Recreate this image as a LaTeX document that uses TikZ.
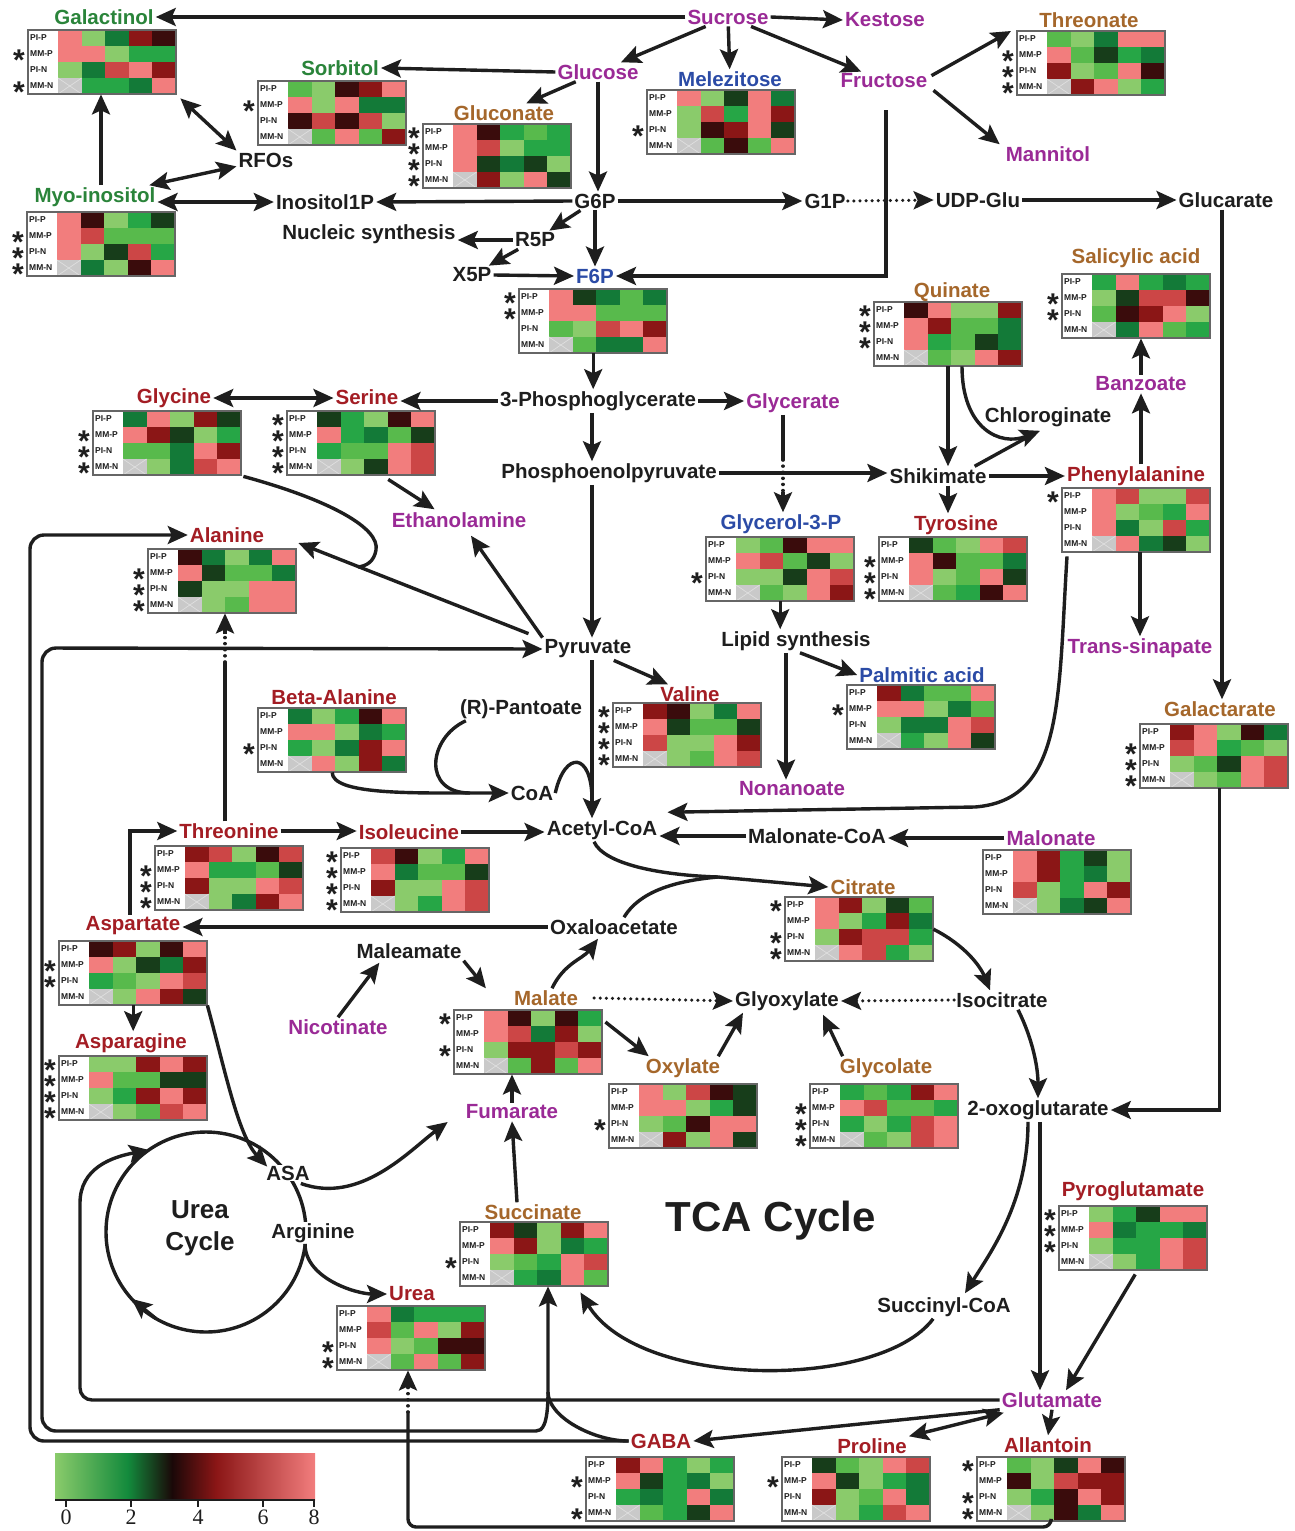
\documentclass[tikz,border=0pt]{standalone}
\usepackage{fontspec}
\setmainfont{Liberation Sans}
\newfontfamily\serifnum{Liberation Serif}
\usetikzlibrary{arrows.meta,calc}
\definecolor{ink}{HTML}{1E1E1E}
\definecolor{cpur}{HTML}{9A2A96}
\definecolor{cgrn}{HTML}{2A843A}
\definecolor{cbrn}{HTML}{A5672B}
\definecolor{cblu}{HTML}{2B4BA6}
\definecolor{cred}{HTML}{A31D24}
\definecolor{hm-p}{HTML}{F27D7D}
\definecolor{hm-r}{HTML}{CC4646}
\definecolor{hm-d}{HTML}{8B1616}
\definecolor{hm-k}{HTML}{3A0C0C}
\definecolor{hm-n}{HTML}{173D1A}
\definecolor{hm-g}{HTML}{137A38}
\definecolor{hm-m}{HTML}{26A646}
\definecolor{hm-s}{HTML}{58BA4C}
\definecolor{hm-l}{HTML}{8ACB6B}
\definecolor{hm-x}{HTML}{C9C9C9}
\definecolor{cbg}{HTML}{138A3C}
\definecolor{cbk}{HTML}{1A0808}
\pgfdeclarehorizontalshading{hmbar}{100bp}{color(0bp)=(hm-l); color(25bp)=(hm-l); color(39bp)=(cbg); color(47.5bp)=(cbk); color(56bp)=(hm-d); color(75bp)=(hm-p); color(100bp)=(hm-p)}
\tikzset{
 lab/.style={font=\fontsize{20.5}{22}\selectfont\bfseries, inner sep=2pt, text=ink},
 ln/.style={draw=ink, line width=3.4pt},
 arr/.style={ln, -{Stealth[length=20pt,width=18pt,inset=4pt]}},
 dblarr/.style={ln, {Stealth[length=20pt,width=18pt,inset=4pt]}-{Stealth[length=20pt,width=18pt,inset=4pt]}},
 dotln/.style={ln, line cap=round, dash pattern=on 0.1pt off 6pt},
 rowlab/.style={font=\fontsize{8.5}{9}\selectfont\bfseries, inner sep=0, anchor=west, text=ink},
 hstar/.style={font=\fontsize{30}{30}\selectfont\bfseries, inner sep=0, text=ink},
 hmborder/.style={draw=black!60, line width=1.1pt},
}
% #1 name, #2 x, #3 y, #4 20 colour codes, #5 stars
\newcommand\hmap[5]{%
 \begin{scope}[shift={(#2,#3)}]
  \foreach \c [count=\i from 0] in {#4}{%
   \pgfmathtruncatemacro\hr{\i/5}%
   \pgfmathtruncatemacro\hc{\i-5*\hr}%
   \fill[hm-\c] ({30+23.6*\hc},{16*\hr}) rectangle ++(23.9,16.3);
  }
  \draw[white!75!gray, line width=0.7pt] (30,48) -- (53.6,64) (30,64) -- (53.6,48);
  \foreach \t [count=\j from 0] in {PI-P,MM-P,PI-N,MM-N}{\node[rowlab] at (2,{16*\j+8}) {\t};}
  \foreach \s [count=\j from 0] in {#5}{\ifnum\s=1\relax \node[hstar] at (-9,{16*\j+14.4}) {*};\fi}
  \draw[hmborder] (0,0) rectangle (148,64);
  \node[inner sep=0, minimum width=148pt, minimum height=64pt, anchor=north west] (#1) at (0,0) {};
 \end{scope}}
\begin{document}
\begin{tikzpicture}[x=1pt,y=-1pt]
\useasboundingbox (0,0) rectangle (1294,1531);
\fill[white] (0,0) rectangle (1294,1531);

% ---------------- heat maps
\hmap{hmgalt}{28}{30}{p,l,g,d,k,p,p,l,m,m,l,g,r,p,d,x,m,m,g,p}{0,1,0,1}
\hmap{hmsor}{258}{81}{s,l,k,d,p,p,l,p,g,g,k,r,k,r,l,x,s,p,s,d}{0,1,0,0}
\hmap{hmglcn}{423}{124}{p,k,m,s,m,p,r,l,m,m,p,n,g,n,l,x,d,l,p,n}{1,1,1,1}
\hmap{hmmel}{647}{90}{p,l,n,p,g,l,r,m,p,d,l,k,d,p,n,x,s,k,s,p}{0,0,1,0}
\hmap{hmthr}{1017}{31}{s,l,g,p,p,p,s,n,m,g,d,l,s,p,k,x,d,p,l,m}{0,1,1,1}
\hmap{hmmyo}{27}{212}{p,k,l,m,n,p,r,s,s,s,p,l,n,r,m,x,g,l,k,p}{0,1,1,1}
\hmap{hmf6p}{519}{289}{p,n,g,s,g,p,p,s,s,s,s,l,r,p,d,x,s,g,g,p}{1,1,0,0}
\hmap{hmsal}{1062}{274}{m,p,m,g,m,l,n,r,r,k,s,k,d,p,l,x,g,p,s,m}{0,1,1,0}
\hmap{hmqui}{874}{302}{k,p,l,l,d,p,d,s,s,g,p,m,s,n,g,x,s,l,p,d}{1,1,1,0}
\hmap{hmgly}{93}{411}{g,p,l,d,n,p,d,n,l,m,s,s,g,p,d,x,l,g,r,p}{0,1,1,1}
\hmap{hmser}{287}{411}{n,m,l,k,p,p,m,g,s,n,m,s,s,p,r,x,l,n,p,r}{1,1,1,1}
\hmap{hmala}{148}{549}{k,g,l,g,p,p,n,s,s,g,n,l,l,p,p,x,l,s,p,p}{0,1,1,1}
\hmap{hmg3p}{706}{537}{l,s,k,p,p,p,r,s,n,l,l,l,n,p,r,x,s,l,p,d}{0,0,1,0}
\hmap{hmtyr}{879}{537}{n,s,l,p,r,p,k,s,s,g,p,l,s,p,n,x,s,m,k,p}{0,1,1,1}
\hmap{hmphe}{1062}{488}{p,r,l,l,r,p,l,s,m,p,p,g,l,r,m,x,p,g,n,l}{1,0,0,0}
\hmap{hmgalr}{1140}{724}{d,p,l,k,g,r,p,m,s,l,l,s,n,p,r,x,l,s,p,r}{0,1,1,1}
\hmap{hmbala}{258}{708}{g,l,m,k,p,p,p,l,g,m,m,l,g,d,p,x,p,l,d,g}{0,0,1,0}
\hmap{hmval}{613}{703}{d,k,l,g,p,p,n,s,s,n,r,l,l,p,d,x,l,s,p,r}{1,1,1,1}
\hmap{hmpal}{847}{685}{d,g,s,s,p,p,p,l,g,s,l,g,g,p,r,x,m,l,p,n}{0,1,0,0}
\hmap{hmthn}{155}{846}{d,r,l,k,r,p,m,m,s,n,d,l,l,p,r,x,l,g,d,p}{0,1,1,1}
\hmap{hmile}{341}{848}{r,k,l,m,p,p,g,s,s,n,d,l,l,p,r,x,l,m,p,r}{1,1,1,1}
\hmap{hmmal}{983}{850}{p,d,m,n,l,p,d,m,g,l,r,l,m,p,d,x,l,g,n,p}{0,0,0,0}
\hmap{hmcit}{785}{897}{p,d,l,n,s,p,l,m,d,g,l,d,r,r,m,x,p,r,m,l}{1,0,1,1}
\hmap{hmasp}{59}{941}{k,d,l,k,p,p,l,n,g,d,m,s,l,p,r,x,l,p,d,n}{0,1,1,0}
\hmap{hmasn}{59}{1056}{l,l,d,p,d,p,s,s,n,n,l,m,d,p,d,x,l,s,r,p}{1,1,1,1}
\hmap{hmmlt}{454}{1010}{p,k,l,k,m,p,r,g,d,l,l,d,d,r,d,x,s,d,s,p}{1,0,1,0}
\hmap{hmoxy}{609}{1084}{p,l,r,k,n,p,p,l,m,n,l,s,k,p,p,x,d,l,p,n}{0,0,1,0}
\hmap{hmglco}{810}{1084}{m,s,m,d,p,p,r,s,s,m,m,l,m,r,p,x,s,l,r,p}{0,1,1,1}
\hmap{hmsccn}{460}{1222}{d,n,l,d,p,p,d,l,g,m,l,s,m,p,r,x,m,g,p,s}{0,0,1,0}
\hmap{hmurea}{337}{1306}{p,g,m,m,m,r,s,p,l,d,p,l,s,k,k,x,s,p,s,d}{0,0,1,1}
\hmap{hmpyg}{1059}{1206}{l,m,n,p,p,p,g,m,m,g,l,m,m,p,r,x,l,m,p,r}{1,1,1,0}
\hmap{hmgaba}{586}{1457}{d,p,m,l,m,p,n,m,g,l,m,g,m,p,g,x,s,m,n,p}{0,1,0,1}
\hmap{hmpro}{782}{1457}{n,s,l,p,r,p,n,l,m,g,d,l,s,p,g,x,l,m,r,p}{0,1,0,0}
\hmap{hmall}{977}{1457}{s,l,n,p,k,k,l,r,d,d,l,m,k,p,d,x,l,k,g,p}{1,0,1,1}

% ---------------- urea cycle ring
\coordinate (uc) at (206,1232);
\draw[ln] (uc) circle[radius=100];

% ---------------- labels
\node[lab,text=cpur] (suc) at (728,17) {Sucrose};
\node[lab,text=cgrn] (galt) at (104,17) {Galactinol};
\node[lab,text=cpur] (kes) at (885,20) {Kestose};
\node[lab,text=cbrn] (thr) at (1089,20) {Threonate};
\node[lab,text=cpur] (glc) at (598,72) {Glucose};
\node[lab,text=cgrn] (sor) at (340,68) {Sorbitol};
\node[lab,text=cblu] (mel) at (730,79) {Melezitose};
\node[lab,text=cpur] (fru) at (884,81) {Fructose};
\node[lab,text=cbrn] (glcn) at (504,113) {Gluconate};
\node[lab,text=cpur] (man) at (1048,154) {Mannitol};
\node[lab] (rfo) at (266,160) {RFOs};
\node[lab,text=cgrn] (myo) at (95,197) {Myo-inositol};
\node[lab] (ino) at (325,202) {Inositol1P};
\node[lab] (g6p) at (595,201) {G6P};
\node[lab] (g1p) at (825,201) {G1P};
\node[lab] (udp) at (978,200) {UDP-Glu};
\node[lab] (gluc) at (1226,200) {Glucarate};
\node[lab] (nuc) at (369,234) {Nucleic synthesis};
\node[lab] (r5p) at (535,240) {R5P};
\node[lab] (x5p) at (472,275) {X5P};
\node[lab,text=cblu] (f6p) at (595,276) {F6P};
\node[lab,text=cbrn] (sal) at (1136,258) {Salicylic acid};
\node[lab,text=cbrn] (qui) at (952,292) {Quinate};
\node[lab,text=cred] (gly) at (174,398) {Glycine};
\node[lab,text=cred] (ser) at (367,397) {Serine};
\node[lab] (pga) at (598,401) {3-Phosphoglycerate};
\node[lab,text=cpur] (glyc) at (793,403) {Glycerate};
\node[lab,text=cpur] (ban) at (1141,384) {Banzoate};
\node[lab] (chl) at (1048,417) {Chloroginate};
\node[lab] (pep) at (609,473) {Phosphoenolpyruvate};
\node[lab] (shk) at (938,476) {Shikimate};
\node[lab,text=cred] (phe) at (1136,476) {Phenylalanine};
\node[lab,text=cpur] (eth) at (459,520) {Ethanolamine};
\node[lab,text=cred] (ala) at (227,535) {Alanine};
\node[lab,text=cblu] (g3p) at (781,524) {Glycerol-3-P};
\node[lab,text=cred] (tyr) at (956,525) {Tyrosine};
\node[lab] (pyr) at (588,649) {Pyruvate};
\node[lab] (lip) at (796,641) {Lipid synthesis};
\node[lab,text=cpur] (tsin) at (1140,648) {Trans-sinapate};
\node[lab,text=cblu] (pal) at (922,675) {Palmitic acid};
\node[lab,text=cred] (bala) at (334,697) {Beta-Alanine};
\node[lab,text=cred] (val) at (690,694) {Valine};
\node[lab] (pant) at (521,709) {(R)-Pantoate};
\node[lab,text=cbrn] (galr) at (1220,709) {Galactarate};
\node[lab] (coa) at (532,793) {CoA};
\node[lab,text=cpur] (non) at (792,789) {Nonanoate};
\node[lab,text=cred] (thn) at (229,831) {Threonine};
\node[lab,text=cred] (ile) at (409,832) {Isoleucine};
\node[lab] (acoa) at (602,830) {Acetyl-CoA};
\node[lab] (mcoa) at (817,836) {Malonate-CoA};
\node[lab,text=cpur] (mal) at (1051,838) {Malonate};
\node[lab,text=cbrn] (cit) at (863,887) {Citrate};
\node[lab,text=cred] (asp) at (133,926) {Aspartate};
\node[lab] (oaa) at (614,927) {Oxaloacetate};
\node[lab] (mlm) at (409,951) {Maleamate};
\node[lab,text=cbrn] (mlt) at (546,998) {Malate};
\node[lab] (glx) at (787,1001) {Glyoxylate};
\node[lab] (ict) at (1002,1000) {Isocitrate};
\node[lab,text=cpur] (nic) at (338,1027) {Nicotinate};
\node[lab,text=cred] (asn) at (131,1043) {Asparagine};
\node[lab,text=cbrn] (oxy) at (683,1068) {Oxylate};
\node[lab,text=cbrn] (glco) at (886,1068) {Glycolate};
\node[lab,text=cpur] (fum) at (512,1112) {Fumarate};
\node[lab] (og) at (1038,1110) {2-oxoglutarate};
\node[lab,fill=white,inner sep=1pt] (asa) at (288,1173) {ASA};
\node[lab,text=cred] (pyg) at (1133,1191) {Pyroglutamate};
\node[lab,text=cbrn] (sccn) at (533,1212) {Succinate};
\node[font=\fontsize{26}{32}\selectfont\bfseries, align=center, text=ink] (ucyc) at (200,1228) {Urea\\Cycle};
\node[lab,fill=white,inner sep=1pt] (arg) at (313,1233) {Arginine};
\node[font=\fontsize{42}{46}\selectfont\bfseries, text=ink] (tca) at (771,1221) {TCA Cycle};
\node[lab,text=cred] (urea) at (412,1294) {Urea};
\node[lab] (sccoa) at (944,1307) {Succinyl-CoA};
\node[lab,text=cpur] (glu) at (1052,1400) {Glutamate};
\node[lab,text=cred] (gaba) at (661,1441) {GABA};
\node[lab,text=cred] (pro) at (872,1446) {Proline};
\node[lab,text=cred] (all) at (1048,1445) {Allantoin};

% ---------------- helper coordinates
\coordinate (sp) at (592,0);
\coordinate (gx) at (783,0);
\coordinate (gxa) at (783,460);
\coordinate (gxb) at (783,492);
\coordinate (qx) at (948,0);
\coordinate (qx2) at (962,0);
\coordinate (lx) at (786,0);
\coordinate (tx) at (225,0);
\coordinate (ta) at (225,662);
\coordinate (tb) at (225,634);
\coordinate (ox) at (1040,0);
\coordinate (myx) at ([xshift=6pt]myo.north);
\coordinate (glx0) at ([xshift=-4pt]gluc.south);
\coordinate (gry0) at ([xshift=5pt]hmgalr.south);
\coordinate (aspx) at ([xshift=-3pt]asp.north);
\coordinate (chtip) at ($(chl.south)+(-8,2)$);
\coordinate (pa) at (975,807);
\coordinate (gm) at (358,567);
\coordinate (cm) at (470,793);
\coordinate (cq) at (592,800);
\coordinate (cj) at (718,877);
\coordinate (sv) at (548,1392);
\coordinate (ub) at (408,1527);
\coordinate (u1) at (408,1412);
\coordinate (u2) at (408,1384);
\coordinate (uca) at (156,1318.6);
\coordinate (ucb) at (131.7,1298.9);
\coordinate (uctop) at (149,1150);

% ---------------- connectors: sugars
\draw[arr] (suc.west) -- (galt.east);
\draw[arr] (suc.east) -- (kes.west);
\draw[arr] (suc) -- (glc);
\draw[arr] (suc) -- (mel);
\draw[arr] (suc) -- (fru);
\draw[arr] ($(fru.north east)+(2,4)$) -- ($(hmthr.north west)+(-6,0)$);
\draw[arr] ($(fru.south east)+(4,0)$) -- ($(man.north west)+(-4,0)$);
\draw[arr] (glc.west) -- (sor.east);
\draw[arr] (glc) -- (glcn);
\draw[arr] (glc.south) -- (glc.south |- g6p.north);
\draw[arr] (g6p.west) -- (ino.east);
\draw[dblarr] (ino.west -| myo.east) -- (ino.west);
\draw[dblarr] (myo) -- (rfo);
\draw[dblarr] ($(hmgalt.south east)+(4,4)$) -- (rfo.north west);
\draw[arr] (myx) -- (myx |- hmgalt.south);
\draw[arr] (g6p.east) -- (g1p.west);
\draw[arr,dotln] (g1p.east) -- (udp.west);
\draw[arr] (udp.east) -- (gluc.west);
\draw[arr] (g6p) -- (r5p);
\draw[arr] (r5p.west) -- (r5p.west -| nuc.east);
\draw[arr] (r5p) -- (x5p);
\draw[arr] (x5p.east) -- (f6p.west);
\draw[arr] (g6p.south) -- (f6p.north);
\draw[arr] ($(fru.south)+(2,20)$) |- (f6p.east);

% ---------------- glycolysis / shikimate
\draw[arr] (hmf6p.south) -- (hmf6p.south |- pga.north);
\draw[arr] (pga.west) -- (pga.west -| ser.east);
\draw[dblarr] (gly.east) -- (gly.east -| ser.west);
\draw[arr] (pga.east) -- (pga.east -| glyc.west);
\draw[arr] (pga.south -| sp) -- (pep.north -| sp);
\draw[ln] (glyc.south -| gx) -- (gxa);
\draw[dotln] (gxa) -- (gxb);
\draw[arr] (gxb) -- (g3p.north -| gx);
\draw[arr] (pep.east) -- (pep.east -| shk.west);
\draw[arr] (pep.south -| sp) -- (pyr.north -| sp);
\draw[arr] (hmqui.south -| qx) -- (shk.north -| qx);
\draw[ln] ($(shk.north east)+(-14,0)$) -- ($(chtip)+(-10,5)$);
\draw[arr] (hmqui.south -| qx2) .. controls +(0,62) and +(-40,16) .. (chtip);
\draw[arr] (shk.east) -- (shk.east -| phe.west);
\draw[arr] (shk.south -| qx) -- (tyr.north -| qx);
\draw[arr] (ban.south |- phe.north) -- (ban.south);
\draw[arr] (ban.north) -- (ban.north |- hmsal.south);
\draw[arr] (tsin.north |- hmphe.south) -- (tsin.north);
\draw[arr] (glx0) -- (glx0 |- galr.north);
\draw[arr] (gry0) |- (og.east);
\draw[arr] ($(hmphe.south west)+(5,4)$) .. controls (1058,700) and (1064,800) .. (pa) -- ($(acoa.north east)+(8,-6)$);
\draw[arr] (hmg3p.south) -- (hmg3p.south |- lip.north);
\draw[arr] ($(lip.south)+(4,0)$) -- (pal.west);
\draw[arr] (lip.south -| lx) -- (non.north -| lx);
\draw[arr] ($(hmser.south)+(27,4)$) -- ($(eth.north west)+(45,-1)$);
\draw[arr] (pyr.north west) -- ($(eth.south)+(12,6)$);
\draw[arr] ($(pyr.north west)+(-14,-4)$) -- ($(hmala.north east)+(2,-6)$);
\draw[ln] ($(hmgly.south east)+(2,1)$) .. controls (330,500) and (380,528) .. (376,550) .. controls (374,562) and (366,566) .. (gm);
\draw[arr] (pyr) -- (val);
\draw[arr] (pyr.south -| sp) -- (acoa.north -| sp);
\draw[arr] (hmbala.south) .. controls +(0,22) and +(-60,0) .. (cm) -- (coa.west);
\draw[ln] ($(pant.south west)+(8,0)$) .. controls (428,738) and (422,793) .. (cm);
\draw[ln] (coa.east) .. controls (565,750) and (592,752) .. (cq);

% ---------------- amino acids
\draw[arr] (thn.east) -- (thn.east -| ile.west);
\draw[arr] (ile.east) -- (ile.east -| acoa.west);
\draw[arr] (mcoa.west) -- (mcoa.west -| acoa.east);
\draw[arr] (mal.west) -- (mal.west -| mcoa.east);
\draw[ln] (thn.north -| tx) -- (ta);
\draw[dotln] (ta) -- (tb);
\draw[arr] (tb) -- (hmala.south -| tx);
\draw[arr] (aspx) |- (thn.west);
\draw[arr] (oaa.west) -- (oaa.west -| asp.east);
\draw[arr] (hmasp.south) -- (hmasp.south |- asn.north);
\draw[arr] (hmasp.south east) .. controls (225,1070) and (238,1135) .. ($(asa.north west)+(2,2)$);
\draw[arr] ($(asa.south east)+(-10,2)$) .. controls (360,1205) and (410,1150) .. ($(fum.west)+(-16,10)$);
\draw[arr] ($(arg.south)+(-8,0)$) .. controls +(0,35) and +(-30,0) .. (urea.west);
\draw[arr] (uca) -- (ucb);

% ---------------- TCA
\draw[arr] ($(mlt.north)+(6,0)$) .. controls +(12,-25) and +(-15,20) .. ($(oaa.south west)+(50,2)$);
\draw[arr] ($(acoa.south)+(-8,0)$) .. controls +(10,22) and +(-60,-2) .. (cj) -- (cit.west);
\draw[ln] ($(oaa.north)+(10,0)$) .. controls +(15,-25) and +(-45,4) .. (cj);
\draw[arr] (hmcit.east) .. controls +(30,15) and +(-10,-25) .. ($(ict.north)+(-12,0)$);
\draw[arr] ($(ict.south)+(16,0)$) .. controls +(15,30) and +(0,-30) .. (og.north);
\draw[arr] ($(og.south)+(-10,0)$) .. controls +(0,80) and +(25,-40) .. ($(sccoa.north)+(21,-2)$);
\draw[arr] ($(sccoa.south west)+(58,0)$) .. controls (880,1390) and (640,1390) .. ($(hmsccn.south east)+(-28,6)$);
\draw[arr] ($(sccn.north)+(-16,0)$) -- (fum.south);
\draw[arr] (fum.north) -- (fum.north |- hmmlt.south);
\draw[arr,dotln] ($(mlt.east)+(14,0)$) -- (glx.west);
\draw[arr,dotln] (ict.west) -- (glx.east);
\draw[arr] ($(hmmlt.north east)+(3,12)$) -- ($(oxy.north west)+(5,0)$);
\draw[arr] ($(oxy.north east)+(-4,0)$) -- ($(glx.south west)+(10,0)$);
\draw[arr] ($(glco.north west)+(5,0)$) -- ($(glx.south east)+(-18,2)$);
\draw[arr] (nic.north) -- ($(mlm.south west)+(25,2)$);
\draw[arr] (mlm.south east) -- ($(mlt.north west)+(-26,0)$);

% ---------------- glutamate family
\draw[arr] (og.south -| ox) -- (glu.north -| ox);
\draw[arr] ($(hmpyg.south)+(2,4)$) -- ($(glu.north)+(14,0)$);
\draw[arr] (glu.south west) -- (gaba.east);
\draw[dblarr] ($(glu.south west)+(4,3)$) -- (pro.north east);
\draw[arr] (glu.south) -- (all.north);
\draw[arr, rounded corners=12] (glu.west) -- (80,1400) -- (80,1215) .. controls (80,1168) and (112,1157) .. (uctop);
\draw[arr] (gaba.west) .. controls +(-35,0) and +(0,25) .. (sv) -- (hmsccn.south -| sv);
\draw[arr, rounded corners=14] (sv) .. controls (548,1426) and (542,1431) .. (522,1431) -- (42,1431) -- (42,648) -- (pyr.west);
\draw[arr, rounded corners=14] (gaba.west) -- (30,1441) -- (30,535) -- (ala.west);
\draw[ln, rounded corners=8] (hmall.south) |- (ub) -- (u1);
\draw[dotln] (u1) -- (u2);
\draw[arr] (u2) -- (hmurea.south -| u2);

% ---------------- colour bar
\shade[shading=hmbar] (55,1453) rectangle (315,1500);
\draw[ink, line width=1.2pt] (55,1500) -- (315,1500);
\foreach \tx/\tl in {66/0,131/2,198/4,263/6,314/8}{
  \draw[ink, line width=1.2pt] (\tx,1500) -- (\tx,1507);
  \node[font=\serifnum\fontsize{22}{24}\selectfont, text=ink, anchor=north, inner sep=0] at (\tx,1510) {\tl};
}
\end{tikzpicture}
\end{document}
